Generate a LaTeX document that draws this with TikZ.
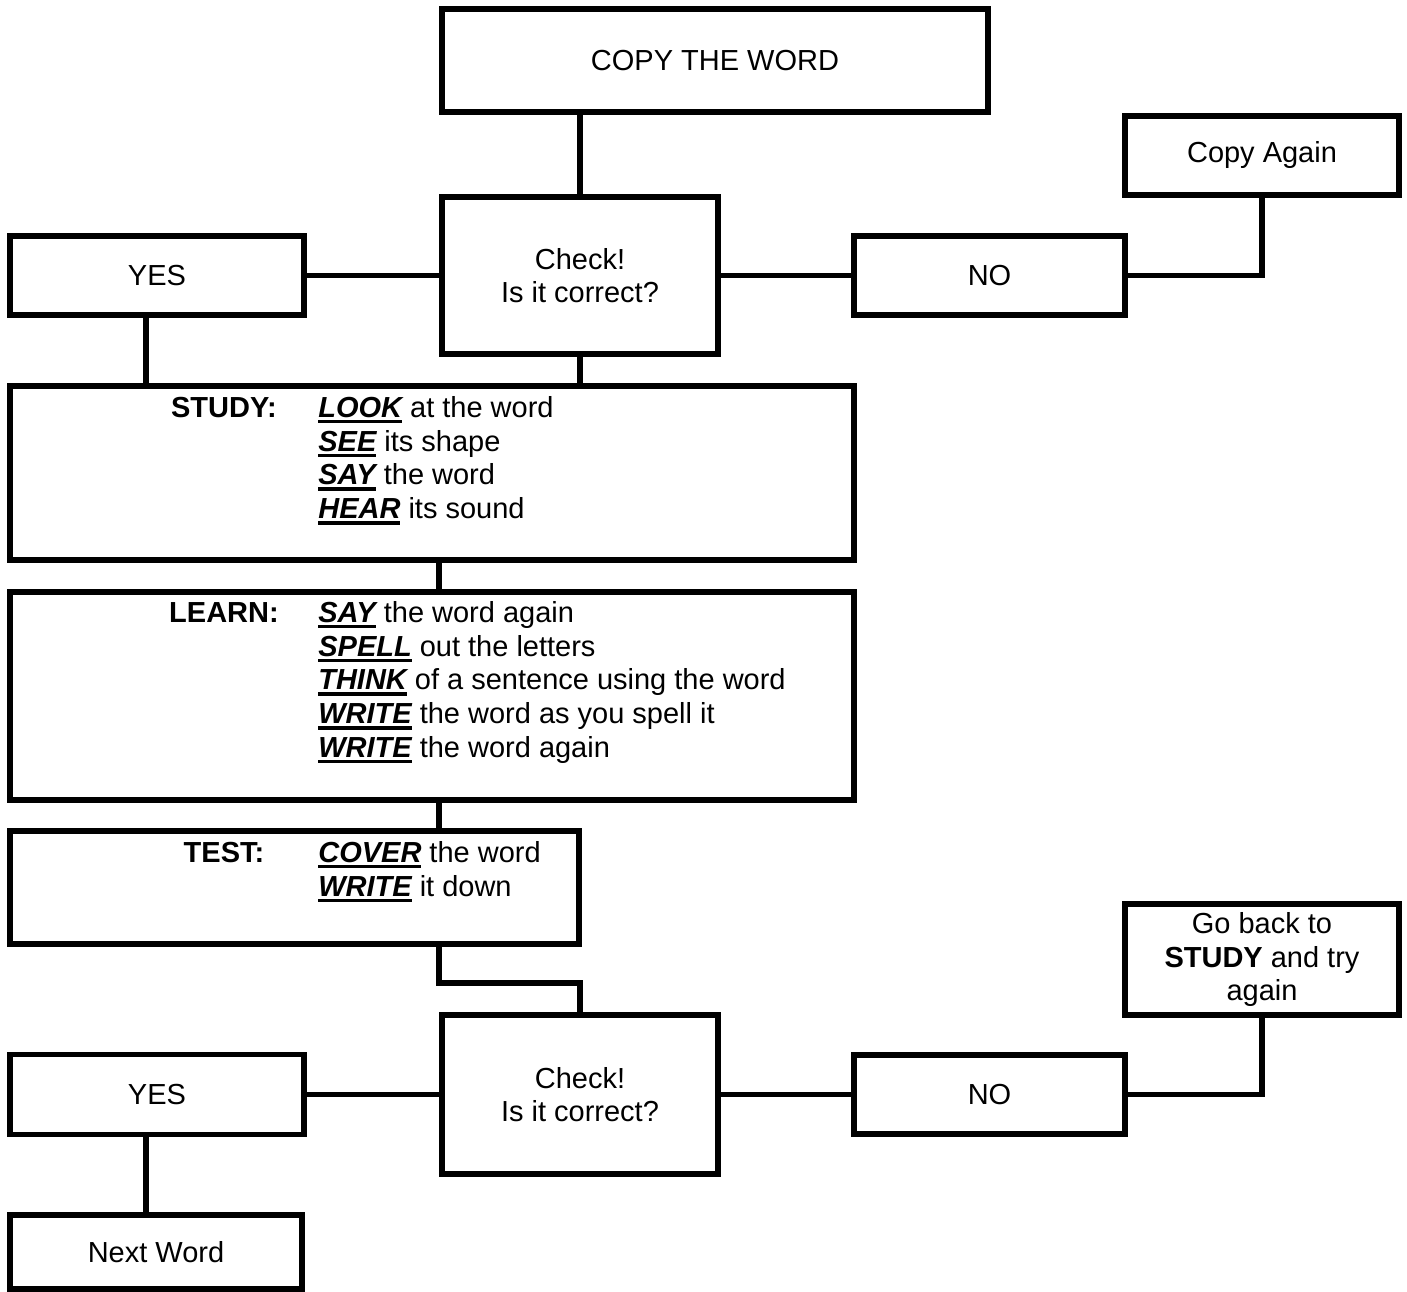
\documentclass[tikz,border=0pt]{standalone}
\usepackage{fontspec}
\setmainfont{Liberation Sans}
\usetikzlibrary{calc}
\newsavebox\kwbox
\newcommand\kw[1]{\sbox\kwbox{\bfseries\itshape #1}\rlap{\rule[-3.4pt]{\wd\kwbox}{2pt}}\usebox\kwbox}
\newcommand\diagfont{\fontsize{16.5}{19.2}\selectfont}

\begin{document}
\begin{tikzpicture}[x=0.02cm, y=-0.02cm, font=\diagfont]
  \tikzset{
    box/.style={draw, rectangle, line width=3.2pt, inner sep=0pt, align=center, font=\diagfont},
    head/.style={font=\diagfont\bfseries, anchor=base, inner sep=0pt},
    list/.style={font=\diagfont, anchor=base west, inner sep=0pt},
    link/.style={line width=3.2pt},
  }
  \useasboundingbox (0,0) rectangle (1407,1292);

  % first round: copy and check
  \node [box, minimum width=10.92cm, minimum height=2.06cm] (copy) at (715,60.5) {COPY THE WORD};
  \node [box, minimum width=5.48cm, minimum height=1.58cm] (again) at (1262,155.5) {Copy Again};
  \node [box, minimum width=5.88cm, minimum height=1.58cm] (yes1) at (157,275.5) {YES};
  \node [box, minimum width=5.52cm, minimum height=3.14cm] (check1) at (580,275.5) {Check!\\Is it correct?};
  \node [box, minimum width=5.42cm, minimum height=1.58cm] (no1) at (989.5,275.5) {NO};

  % study, learn, test
  \node [box, minimum width=16.88cm, minimum height=3.48cm] (study) at (432,473) {};
  \node [head] (studyhead) at (224,417.5) {STUDY:};
  \node [list] (studylist) at (318,417.5) {\begin{tabular}[t]{@{}l@{}}
      \kw{LOOK} at the word\\
      \kw{SEE} its shape\\
      \kw{SAY} the word\\
      \kw{HEAR} its sound
    \end{tabular}};

  \node [box, minimum width=16.88cm, minimum height=4.16cm] (learn) at (432,696) {};
  \node [head] (learnhead) at (224,622.5) {LEARN:};
  \node [list] (learnlist) at (318,622.5) {\begin{tabular}[t]{@{}l@{}}
      \kw{SAY} the word again\\
      \kw{SPELL} out the letters\\
      \kw{THINK} of a sentence using the word\\
      \kw{WRITE} the word as you spell it\\
      \kw{WRITE} the word again
    \end{tabular}};

  \node [box, minimum width=11.38cm, minimum height=2.26cm] (test) at (294.5,887.5) {};
  \node [head] (testhead) at (224,862.5) {TEST:};
  \node [list] (testlist) at (318,862.5) {\begin{tabular}[t]{@{}l@{}}
      \kw{COVER} the word\\
      \kw{WRITE} it down
    \end{tabular}};

  % second round
  \node [box, minimum width=5.48cm, minimum height=2.22cm] (goback) at (1262,959.5) {Go back to\\\textbf{STUDY} and try\\again};
  \node [box, minimum width=5.52cm, minimum height=3.18cm] (check2) at (580,1094.5) {Check!\\Is it correct?};
  \node [box, minimum width=5.88cm, minimum height=1.6cm] (yes2) at (157,1094.5) {YES};
  \node [box, minimum width=5.42cm, minimum height=1.58cm] (no2) at (989.5,1094.5) {NO};
  \node [box, minimum width=5.84cm, minimum height=1.48cm] (next) at (156,1252) {Next Word};

  % connectors
  \draw [link] (check1.north |- copy.south) -- (check1.north);
  \draw [link] (yes1.east) -- (check1.west);
  \draw [link] (check1.east) -- (no1.west);
  \draw [link] (no1.east) -| (again.south);
  \coordinate (yesdrop) at ($(yes1.south)+(-11,0)$);
  \draw [link] (yesdrop) -- (yesdrop |- study.north);
  \draw [link] (check1.south) -- (check1.south |- study.north);
  \draw [link] (study.south -| check1.west) -- (learn.north -| check1.west);
  \draw [link] (learn.south -| check1.west) -- (test.north -| check1.west);
  \draw [link] (test.south -| check2.west) -- ++(0,36) -| (check2.north);
  \draw [link] (yes2.east) -- (check2.west);
  \draw [link] (check2.east) -- (no2.west);
  \draw [link] (no2.east) -| (goback.south);
  \coordinate (nextdrop) at ($(yes2.south)+(-11,0)$);
  \draw [link] (nextdrop) -- (nextdrop |- next.north);
\end{tikzpicture}
\end{document}
